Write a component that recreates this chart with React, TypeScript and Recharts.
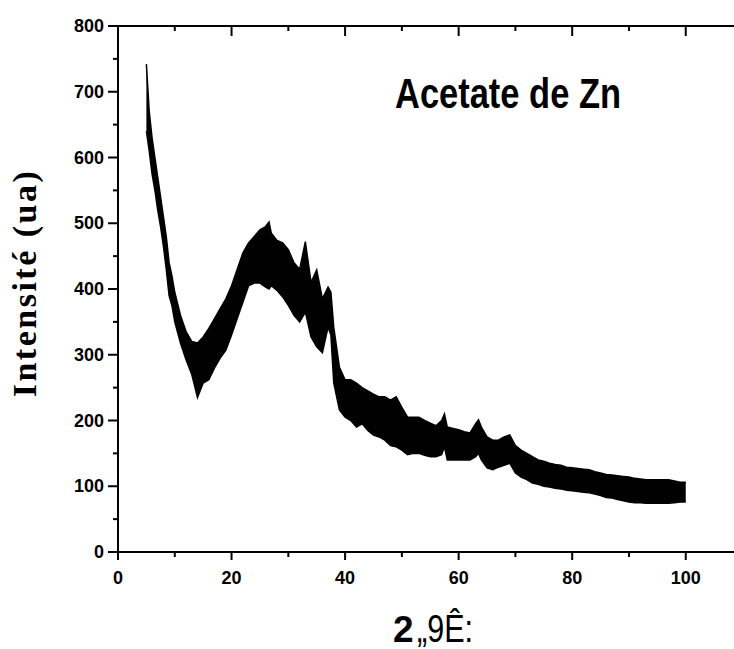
import React from "react";
import { ComposedChart, Area, XAxis, YAxis } from "recharts";

// 2-theta positions (deg) where the band envelope was read
const angles = [
  5, 5.5, 6, 6.5, 7, 7.5, 8, 8.5, 9, 9.5, 10, 11, 12, 13, 14, 15, 16, 17, 18, 19,
  20, 21, 22, 23, 24, 25, 26, 26.6, 27, 28, 29, 30, 31, 32, 33, 34, 35, 36, 37,
  37.5, 38, 39, 40, 41, 42, 43, 44, 45, 46, 47, 48, 49, 50, 51, 52, 53, 54, 55,
  56, 57, 57.5, 58, 59, 60, 61, 62, 63, 63.5, 64, 65, 66, 67, 68, 69, 70, 71, 72,
  73, 74, 75, 76, 77, 78, 79, 80, 81, 82, 83, 84, 85, 86, 87, 88, 89, 90, 91, 92,
  93, 94, 95, 96, 97, 98, 99, 100,
];

// lower edge of the noisy trace
const lows = [
  640, 610, 575, 550, 520, 495, 465, 430, 390, 375, 350, 318, 292, 270, 235, 257,
  262, 280, 295, 307, 330, 355, 380, 405, 409, 409, 403, 400, 405, 398, 388, 375,
  360, 350, 365, 327, 312, 303, 342, 330, 257, 216, 205, 200, 190, 195, 185, 178,
  175, 170, 162, 160, 155, 148, 150, 150, 147, 145, 145, 148, 160, 140, 140, 140,
  140, 140, 145, 150, 140, 128, 125, 129, 132, 135, 120, 114, 110, 105, 103, 100,
  99, 97, 96, 94, 93, 92, 91, 90, 88, 86, 83, 82, 80, 78, 76, 75, 75, 74, 74, 74,
  74, 74, 75, 76, 76,
];

// upper edge of the noisy trace
const highs = [
  742, 670, 630, 600, 570, 540, 510, 480, 440, 420, 395, 360, 335, 320, 318, 327,
  340, 355, 370, 385, 405, 430, 455, 470, 480, 490, 495, 502, 485, 474, 470, 460,
  440, 430, 472, 410, 429, 385, 403, 395, 342, 281, 262, 262, 257, 250, 245, 240,
  236, 236, 231, 236, 220, 205, 205, 205, 200, 196, 192, 200, 210, 190, 188, 186,
  183, 181, 195, 201, 190, 175, 170, 170, 175, 178, 162, 155, 150, 145, 140, 138,
  135, 133, 132, 129, 128, 127, 126, 125, 122, 120, 118, 117, 116, 115, 114, 112,
  111, 110, 110, 110, 110, 110, 108, 106, 106,
];

const yTicks = [0, 50, 100, 150, 200, 250, 300, 350, 400, 450, 500, 550, 600, 650, 700, 750, 800];
const xTicks = [0, 10, 20, 30, 40, 50, 60, 70, 80, 90, 100];

const data = angles.map((a, i) => ({ x: a, band: [lows[i], highs[i]] }));

const tickFont = {
  fontFamily: "'Liberation Sans', Arial, sans-serif",
  fontWeight: 700,
  fontSize: 18,
};

const LeftTick = (props: any) => {
  const { x, y, payload } = props;
  const major = payload.value % 100 === 0;
  const label = String(payload.value);
  return (
    <g>
      <line x1={x} x2={x - (major ? 10 : 5)} y1={y} y2={y} stroke="#000" strokeWidth={2} />
      {major && (
        <text
          x={x - 14}
          y={y + 6}
          textAnchor="end"
          fill="#000"
          style={tickFont}
          textLength={label.length * 10}
          lengthAdjust="spacingAndGlyphs"
        >
          {label}
        </text>
      )}
    </g>
  );
};

const BottomTick = (props: any) => {
  const { x, y, payload } = props;
  const major = payload.value % 20 === 0;
  return (
    <g>
      <line x1={x} x2={x} y1={y} y2={y + (major ? 8 : 5)} stroke="#000" strokeWidth={2} />
      {major && (
        <text x={x} y={y + 32} textAnchor="middle" fill="#000" style={tickFont}>
          {payload.value}
        </text>
      )}
    </g>
  );
};

const TopTick = (props: any) => {
  const { x, y, payload } = props;
  const major = payload.value % 20 === 0;
  return <line x1={x} x2={x} y1={y} y2={y + (major ? 10 : 5)} stroke="#000" strokeWidth={2} />;
};

export default function App() {
  return (
    <div style={{ position: "absolute", left: 0, top: 0, width: 734, height: 649, background: "#fff" }}>
      <ComposedChart
        width={734}
        height={649}
        data={data}
        margin={{ top: 16, right: 0, bottom: 57, left: 58 }}
      >
        <XAxis
          xAxisId="bottom"
          type="number"
          dataKey="x"
          domain={[0, 108.5]}
          ticks={xTicks}
          interval={0}
          allowDataOverflow
          height={40}
          tickLine={false}
          tickSize={0}
          tickMargin={0}
          axisLine={{ stroke: "#000", strokeWidth: 2 }}
          tick={<BottomTick />}
        />
        <XAxis
          xAxisId="top"
          orientation="top"
          type="number"
          dataKey="x"
          domain={[0, 108.5]}
          ticks={xTicks}
          interval={0}
          allowDataOverflow
          height={10}
          tickLine={false}
          tickSize={0}
          tickMargin={0}
          axisLine={{ stroke: "#000", strokeWidth: 2 }}
          tick={<TopTick />}
        />
        <YAxis
          type="number"
          domain={[0, 800]}
          ticks={yTicks}
          interval={0}
          width={60}
          tickLine={false}
          tickSize={0}
          tickMargin={0}
          axisLine={{ stroke: "#000", strokeWidth: 2 }}
          tick={<LeftTick />}
        />
        <Area
          xAxisId="bottom"
          type="linear"
          dataKey="band"
          stroke="#000"
          strokeWidth={1.5}
          fill="#000"
          fillOpacity={1}
          dot={false}
          activeDot={false}
          isAnimationActive={false}
        />
      </ComposedChart>
      <svg
        width={734}
        height={649}
        style={{ position: "absolute", left: 0, top: 0, pointerEvents: "none" }}
      >
        <text
          x={395}
          y={108}
          fill="#000"
          textLength={226}
          lengthAdjust="spacingAndGlyphs"
          style={{ fontFamily: "'Liberation Sans', Arial, sans-serif", fontWeight: 700, fontSize: 42 }}
        >
          Acetate de Zn
        </text>
        <text
          transform="translate(36, 283) rotate(-90)"
          textAnchor="middle"
          fill="#000"
          style={{ fontFamily: "'Liberation Serif', 'Times New Roman', serif", fontWeight: 700, fontSize: 34, letterSpacing: 2.5 }}
        >
          Intensité (ua)
        </text>
        <text
          x={393}
          y={642}
          fill="#000"
          style={{ fontFamily: "'Liberation Sans', Arial, sans-serif", fontWeight: 700, fontSize: 37 }}
        >
          2
        </text>
        <text
          x={417}
          y={642}
          fill="#000"
          textLength={56}
          lengthAdjust="spacingAndGlyphs"
          style={{ fontFamily: "'Liberation Sans', Arial, sans-serif", fontSize: 38 }}
        >
          „9Ê:
        </text>
      </svg>
    </div>
  );
}
